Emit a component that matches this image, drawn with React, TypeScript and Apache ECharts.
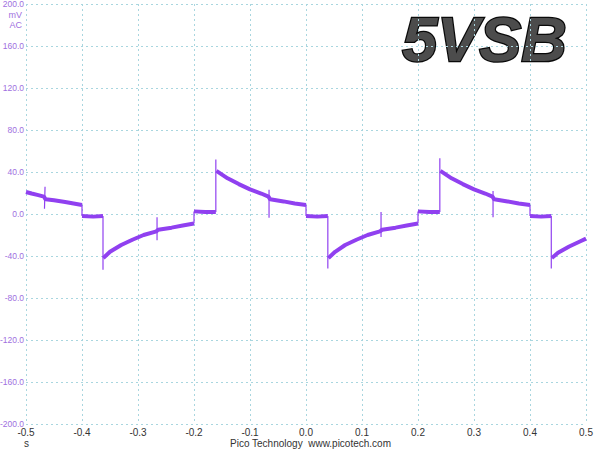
import React, { useEffect, useRef } from "react";
import * as echarts from "echarts";

const yTicks = [-200, -160, -120, -80, -40, 0, 40, 80, 120, 160, 200];
const xTicks = [-0.5, -0.4, -0.3, -0.2, -0.1, 0.0, 0.1, 0.2, 0.3, 0.4, 0.5];

// Main (thick, noisy) trace segments, in mV, separated by gaps at the jumps
const traceMain: [number, number | string][] = [
  [-0.5, 21], [-0.49, 19.5], [-0.478, 18], [-0.468, 16.5], [-0.465, 14], [-0.45, 13], [-0.43, 11.5], [-0.415, 10], [-0.4, 8.5],
  [-0.4, "-"],
  [-0.4, -2], [-0.38, -2.5], [-0.3625, -2],
  [-0.3625, "-"],
  [-0.362, -42], [-0.35, -36], [-0.33, -29.5], [-0.31, -24.5], [-0.29, -20], [-0.267, -16.5], [-0.264, -15], [-0.24, -13], [-0.22, -11], [-0.2, -9],
  [-0.2, "-"],
  [-0.2, 2.5], [-0.18, 2], [-0.161, 2],
  [-0.161, "-"],
  [-0.16, 41], [-0.14, 34], [-0.12, 28.5], [-0.1, 23.5], [-0.08, 19.5], [-0.067, 16.5], [-0.064, 14], [-0.04, 12], [-0.02, 10], [0.0, 8.5],
  [0.0, "-"],
  [0.0, -2], [0.02, -2.5], [0.039, -2],
  [0.039, "-"],
  [0.04, -42], [0.052, -36], [0.07, -29.5], [0.09, -24.5], [0.11, -20], [0.132, -16.5], [0.136, -15], [0.16, -13], [0.18, -11], [0.2, -9],
  [0.2, "-"],
  [0.2, 2.5], [0.22, 2], [0.239, 2],
  [0.239, "-"],
  [0.24, 41], [0.26, 34], [0.28, 28.5], [0.3, 23.5], [0.32, 19.5], [0.333, 16.5], [0.336, 14], [0.36, 12], [0.38, 10], [0.4, 8.5],
  [0.4, "-"],
  [0.4, -2], [0.42, -2.5], [0.438, -2],
  [0.438, "-"],
  [0.439, -42], [0.45, -37], [0.47, -31], [0.49, -26], [0.5, -23.5],
];

// Thin vertical edges and glitch spikes
const traceEdges: [number, number | string][] = [
  [-0.467, 5], [-0.466, 26], [-0.466, "-"],
  [-0.4, 8.5], [-0.4, -2], [-0.4, "-"],
  [-0.3625, -2], [-0.3625, -53], [-0.3625, "-"],
  [-0.266, -3], [-0.266, -25], [-0.266, "-"],
  [-0.2, -9], [-0.2, 2.5], [-0.2, "-"],
  [-0.161, 2], [-0.161, 52], [-0.161, "-"],
  [-0.066, -3.5], [-0.066, 23], [-0.066, "-"],
  [0.0, 8.5], [0.0, -2], [0.0, "-"],
  [0.039, -2], [0.039, -52], [0.039, "-"],
  [0.134, 2], [0.134, -22], [0.134, "-"],
  [0.2, -9], [0.2, 2.5], [0.2, "-"],
  [0.239, 2], [0.239, 53], [0.239, "-"],
  [0.334, -3], [0.334, 22], [0.334, "-"],
  [0.4, 8.5], [0.4, -2], [0.4, "-"],
  [0.438, -2], [0.438, -52],
];

const lineColor = "#9040f0";
const labelColor = "#a070e0";
const gridColor = "#a9d6df";
const family = "'Liberation Sans', Arial, sans-serif";
const font10 = "10px " + family;

export default function App() {
  const ref = useRef<HTMLDivElement>(null);
  useEffect(() => {
    if (!ref.current) return;
    const chart = echarts.init(ref.current, undefined, { renderer: "svg" });
    chart.setOption({
      animation: false,
      backgroundColor: "#ffffff",
      grid: { left: 26, right: 14, top: 4, bottom: 26, containLabel: false, outerBoundsMode: "none" },
      xAxis: {
        type: "value",
        min: xTicks[0],
        max: xTicks[xTicks.length - 1],
        interval: 0.1,
        axisLine: { show: false },
        axisTick: { show: false },
        axisLabel: {
          color: "#333333",
          fontFamily: family,
          fontSize: 10,
          margin: 3,
          formatter: (v: number) => v.toFixed(1),
        },
        splitLine: { show: true, lineStyle: { color: gridColor, type: [2, 3], width: 1 } },
      },
      yAxis: {
        type: "value",
        min: yTicks[0],
        max: yTicks[yTicks.length - 1],
        interval: 40,
        axisLine: { show: false },
        axisTick: { show: false },
        axisLabel: {
          color: labelColor,
          fontFamily: family,
          fontSize: 8.5,
          margin: 2,
          formatter: (v: number) => v.toFixed(1),
        },
        splitLine: { show: true, lineStyle: { color: gridColor, type: [2, 3], width: 1 } },
      },
      graphic: [
        { type: "text", right: 578, top: 10, style: { text: "mV", fill: labelColor, font: "9px " + family, align: "right" } },
        { type: "text", right: 578, top: 20, style: { text: "AC", fill: labelColor, font: "9px " + family, align: "right" } },
        { type: "text", left: 24, top: 438, style: { text: "s", fill: "#333333", font: font10 } },
        { type: "text", left: 230, top: 438, style: { text: "Pico Technology  www.picotech.com", fill: "#333333", font: font10 } },
        {
          type: "text",
          left: 401,
          top: 6,
          style: {
            text: "5VSB",
            font: "italic bold 63px " + family,
            fill: "#4c4c4c",
            stroke: "#0a0a0a",
            lineWidth: 2.5,
          },
        },
      ],
      series: [
        {
          type: "line",
          data: traceMain,
          showSymbol: false,
          symbol: "none",
          connectNulls: false,
          lineStyle: { color: lineColor, width: 4 },
          z: 3,
        },
        {
          type: "line",
          data: traceEdges,
          showSymbol: false,
          symbol: "none",
          connectNulls: false,
          lineStyle: { color: lineColor, width: 1.2 },
          z: 4,
        },
      ],
    });
    return () => chart.dispose();
  }, []);
  return <div ref={ref} style={{ position: "fixed", left: 0, top: 0, width: 600, height: 450 }} />;
}
